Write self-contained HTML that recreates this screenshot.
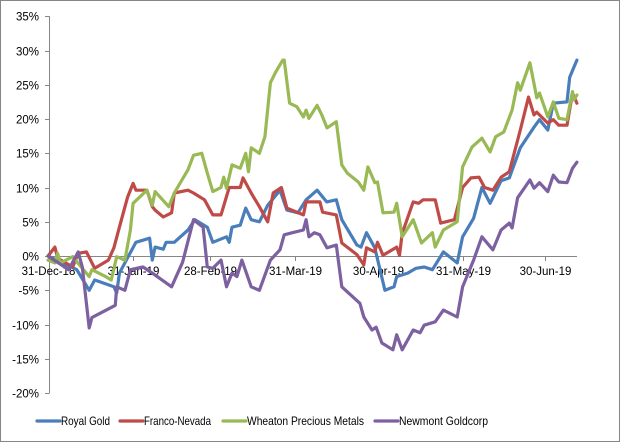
<!DOCTYPE html>
<html><head><meta charset="utf-8"><style>
body{margin:0;background:#fff;}
svg{display:block;font-family:"Liberation Sans",sans-serif;}
</style></head><body>
<svg id="chart" width="620" height="442">
<rect x="0.5" y="0.5" width="619" height="441" fill="#fff" stroke="#868686"/>
<g id="axes"></g><g id="series"></g><g id="legend"></g>
</svg>
<script>
const yTicks=[35,30,25,20,15,10,5,0,-5,-10,-15,-20];
const monthLabels=["31-Dec-18","31-Jan-19","28-Feb-19","31-Mar-19","30-Apr-19","31-May-19","30-Jun-19"];
const monthDays=[0,31,59,90,120,151,181];
const seriesNames=["Royal Gold","Franco-Nevada","Wheaton Precious Metals","Newmont Goldcorp"];
const seriesColors=["#4a7ebb","#be4b48","#98b954","#7d60a0"];
const rgDays=[0,10.5,15,17,24,25,26,32,37,38,39,42,43,46,51,53.5,58,60,65,66,67,70,72,74,77,80,84.5,87,91,94,98,101.5,105,107,112.5,114,116,119,122.7,126,127,131,134,137,140,144,149,151,155,158,161,165,168,172,177,179,182,184,189,190,192.6];
const rgVals=[0,-2,-5,-3.5,-4.5,-5.4,-2.5,2,2.6,-0.6,1.3,1,2,2,3.8,5.3,4.2,2,2.8,2,4.2,4.5,7,5.3,5,7.4,9.6,6.7,6.3,8.2,9.6,7.9,8.2,5.3,1.6,1.3,3.4,1.2,-5,-4.5,-3,-2.5,-1.8,-1.6,-2,0.6,-1,2.8,5.5,10,7.7,11,11.4,15.8,18.8,19.9,18.4,22.3,22.5,26.1,28.6];
const fnDays=[0,2.5,3.5,9,11,14,17,22,24,26,29,31,32,36,38,39,42,45,46,51,53,57,60,63,66,70,71,74,77,80,82,85,87,93,94,99,100,105,107,112.5,115,116,119,120,122,127,128,129,133,135,136.6,141,143,148,151,154,157,159,162,165,168,172,175,177,178,182,184,186,189,191,192.6];
const fnVals=[0,1.3,-0.3,-1.6,0.4,0.6,-1.8,-0.6,1.2,4.2,8.6,10.6,9.6,9.6,7.2,6.7,5.7,6.3,9.2,9.6,9.2,8.2,6,6,10,10,11.4,9.2,7.2,5,9.2,10,7,6,7.9,7.9,6.4,6,1.9,0.2,-1.3,1.2,0.6,2,0.1,1.3,0.1,3.3,7.9,7.7,8.2,8.2,4.8,5.3,10,11.4,11.5,10,9.6,11.5,12.3,18.4,23.2,20.6,21,19.4,19.9,19.1,19.1,23.8,22.3];
const wpDays=[0,2.5,3.5,4.5,9,15,16,21,23,25,28,30,31,36,38,39,44,46,51,53,56,58,60,63,64,65,67,70,72,73,74,77,79,81,83,85.5,86,88,90.6,93,94,95,98,99.7,101.6,105,107,109,113,115,116.5,119,120,122,126,127,129,133,136,140,141,144,149,151,154.4,158,161,163,166,169,171,172,175.5,178,179,182,184,186,189,191,191.5,192.6];
const wpVals=[-0.6,-1,0.4,-1,-0.1,-3,-2,-3,-3.5,-0.1,-0.6,3.8,7.7,9.6,7.4,9.4,7.2,9.2,12.6,14.7,15,12.1,9.4,10,11.5,9.9,13.3,12.8,15,12.3,15.8,15,17.4,25.3,26.9,28.6,28.6,22.3,21.8,20.3,21.3,20.1,22,20.6,18.7,19.6,13.3,12.1,10.8,9.6,13,10.7,10.8,6.3,6.4,7.7,2.8,5.3,1.9,3.4,1.3,3.8,5,13,15.9,17.2,15.2,17.4,18.1,21.3,25.3,24.2,28.2,23.1,23.8,20.3,22.5,20.1,19.9,24,22.8,23.5];
const nmDays=[0,7.5,11,12.5,15,16,22.6,24.5,25,28,30,34.6,38,45,49,53,56.5,58,60,63,65,67,68.8,70.6,74,77,81,84.5,86,89,93,94,95,97,99,101.6,105,107,113.6,115,118,119.5,121.6,125.6,127,129,133,135.5,137,141,144,149,151,155,158,162,165,168,169,171,175.5,177,179,182,184,186,189,191,192.6];
const nmVals=[0,-2,0.6,-1.6,-10.5,-9,-7.6,-7.2,-4.5,-5,-2,-1.6,-2.5,-4.5,-0.9,5.3,4.2,-1.6,-1.8,-0.6,-4.5,-2.5,-3,-0.6,-4.5,-5,-0.6,0.9,3.1,3.4,3.8,5.3,2.8,3.4,3.1,1.2,1.6,-4.5,-6.9,-8.9,-10.8,-10.4,-12.7,-13.7,-11.5,-13.7,-10.8,-11.2,-10.1,-9.6,-7.9,-8.9,-4.5,-0.6,2.8,0.9,3.8,4.8,4.1,8.5,11.1,9.9,10.7,9.4,11.8,10.8,10.7,12.8,13.7];
const allDays=[rgDays,fnDays,wpDays,nmDays];
const allVals=[rgVals,fnVals,wpVals,nmVals];

const NS="http://www.w3.org/2000/svg";
const X0=48,PXD=2.746,Y0=256,PXP=6.85;
function xs(d){return X0+d*PXD;}
function ys(v){return Y0-v*PXP;}
function mk(t,a,p){const e=document.createElementNS(NS,t);for(const k in a)e.setAttribute(k,a[k]);p.appendChild(e);return e;}
const axes=document.getElementById('axes');
const yAxis=mk('line',{x1:49.5,y1:ys(35),x2:49.5,y2:ys(-20),stroke:'#868686','stroke-width':1},axes);


yTicks.forEach(v=>{
  const y=Math.round(ys(v))+0.5;
  const tk=mk('line',{x1:45,y1:y,x2:49.5,y2:y,stroke:'#868686'},axes);
  
  
  const t=mk('text',{x:39,y:y+4,'text-anchor':'end','font-size':'11.5',fill:'#000'},axes);
  t.textContent=v+'%';
  
  
});
const xAxis=mk('line',{x1:49.5,y1:Y0+0.5,x2:577,y2:Y0+0.5,stroke:'#868686'},axes);


monthDays.forEach((d,i)=>{
  const x=Math.round(xs(d))+0.5;
  const tk=mk('line',{x1:x,y1:Y0,x2:x,y2:Y0+5,stroke:'#868686'},axes);
  
  
  const t=mk('text',{x:x,y:Y0+19,'text-anchor':'middle','font-size':'11.5',fill:'#000'},axes);
  t.textContent=monthLabels[i];
  
  
});
const sg=document.getElementById('series');
allDays.forEach((ds,i)=>{
  const pts=ds.map((d,j)=>xs(d).toFixed(1)+','+ys(allVals[i][j]).toFixed(1)).join(' ');
  const pl=mk('polyline',{points:pts,fill:'none',stroke:seriesColors[i],'stroke-width':3.2,'stroke-linejoin':'round','stroke-linecap':'round'},sg);
  
  
});
const lg=document.getElementById('legend');
const lx=[37,120,223,375];
const lw=[49,67,117,89];
seriesNames.forEach((n,i)=>{
  const g=mk('g',{},lg);
  
  
  mk('line',{x1:lx[i],y1:421,x2:lx[i]+23,y2:421,stroke:seriesColors[i],'stroke-width':3.2,'stroke-linecap':'round'},g);
  const t=mk('text',{x:lx[i]+24,y:425,'font-size':'12',fill:'#000',textLength:lw[i],lengthAdjust:'spacingAndGlyphs'},g);
  t.textContent=n;
});
</script>
</body></html>
